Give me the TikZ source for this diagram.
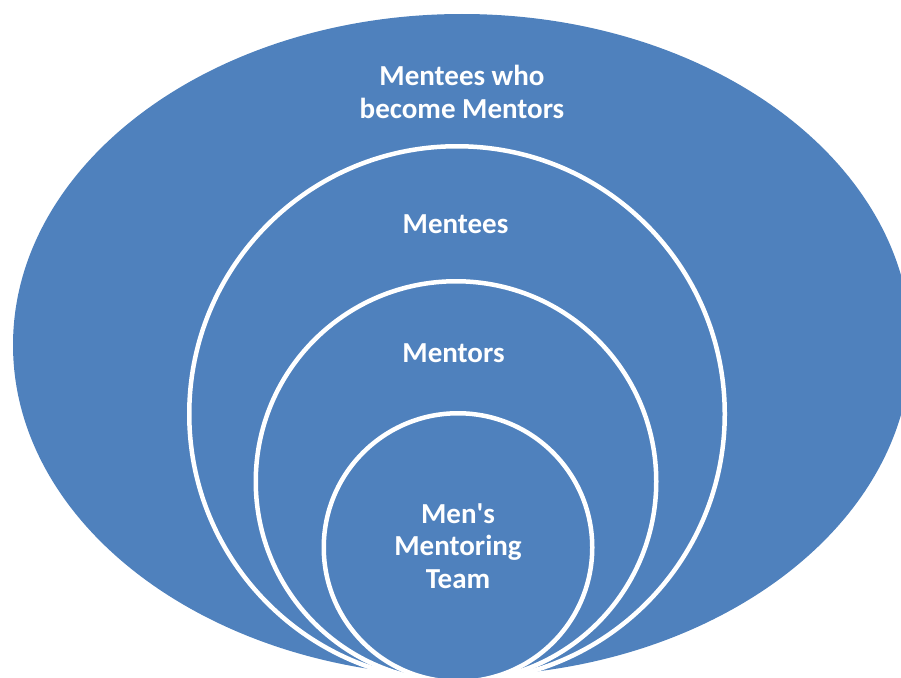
\documentclass[tikz,border=0pt]{standalone}
\usepackage{fontspec}
\setmainfont{Carlito}
\definecolor{ringblue}{HTML}{4F81BD}
\begin{document}
\begin{tikzpicture}[x=1pt,y=-1pt,
  ring/.style={fill=ringblue,draw=white,line width=4.5pt},
  lbl/.style={text=white,font=\bfseries\fontsize{29}{32.5}\selectfont,align=center,inner sep=0pt,anchor=base}]
\useasboundingbox (0,0) rectangle (901,677);
\clip (0,0) rectangle (901,677);
\fill[ringblue] (462,345) ellipse [x radius=449pt, y radius=331pt];
\path[ring] (457,414) circle [radius=267.75pt];
\path[ring] (456,481.5) circle [radius=200.25pt];
\path[ring] (458,547.5) circle [radius=134.25pt];
\node[lbl] (outer) at (462,118.3) {Mentees who\\become Mentors};
\node[lbl] (mentees) at (455.5,233.3) {Mentees};
\node[lbl] (mentors) at (453.5,362.7) {Mentors};
\node[lbl] (team) at (458,588.3) {Men\textquotesingle s\\Mentoring\\Team};
\end{tikzpicture}
\end{document}
